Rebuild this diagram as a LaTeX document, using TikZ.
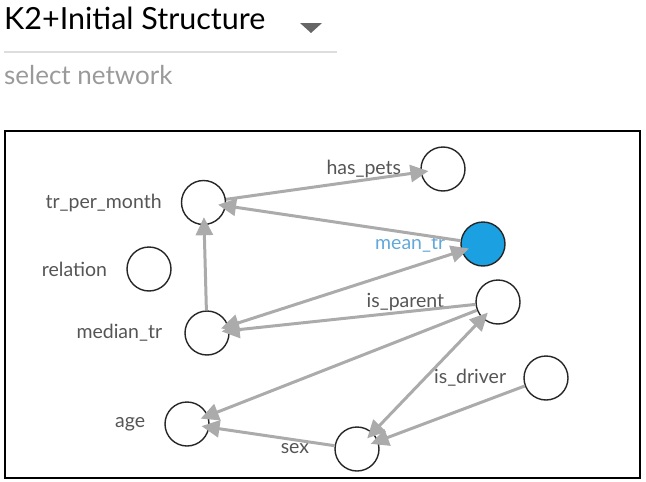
\documentclass[tikz,border=0pt]{standalone}
\usepackage{fontspec}
\setmainfont{Lato}
\usetikzlibrary{arrows.meta, positioning}
\definecolor{grisFlecha}{HTML}{ABABAB}
\definecolor{grisTexto}{HTML}{555555}
\definecolor{grisSub}{HTML}{9A9A9A}
\definecolor{grisLinea}{HTML}{DDDDDD}
\definecolor{grisMenu}{HTML}{666666}
\definecolor{azulNodo}{HTML}{1BA1E2}
\definecolor{azulTexto}{HTML}{62A8DA}
\tikzset{
  nodoRed/.style={
    circle, draw=black!85, line width=1.4pt, fill=white,
    minimum size=44pt, inner sep=0pt
  },
  nodoActivo/.style={nodoRed, fill=azulNodo},
  etiqueta/.style={font=\fontsize{19.5}{22}\selectfont, text=grisTexto,
    inner sep=0pt, xshift=-19pt},
  etiquetaActiva/.style={etiqueta, text=azulTexto},
  flecha/.style={-{Triangle[length=18pt, width=17pt]}, line width=3pt,
    grisFlecha, shorten >=-8pt},
  flechaDoble/.style={{Triangle[length=18pt, width=17pt]}-{Triangle[length=18pt, width=17pt]},
    line width=3pt, grisFlecha, shorten >=-8pt, shorten <=-8pt},
}

\begin{document}
\begin{tikzpicture}[x=1pt, y=-1pt]
    \useasboundingbox (0,0) rectangle (646,482);
    % selector
    \node[anchor=west, inner sep=0pt, font=\fontsize{30.5}{34}\selectfont] (titulo) at (4,18) {K2+Initial Structure};
    \fill[grisMenu] (300,23) -- (322,23) -- (311,33) -- cycle;
    \draw[grisLinea, line width=1.5pt] (4,52) -- (337,52);
    \node[anchor=west, inner sep=0pt, text=grisSub, font=\fontsize{26}{30}\selectfont] (subtitulo) at (4,75) {select network};
    \draw[line width=2pt] (5,131) rectangle (640,478);
    % red
    \node[nodoRed, label={[etiqueta]left:tr\_per\_month}] (trMes) at (203.5,202.5) {};
    \node[nodoRed, label={[etiqueta]left:has\_pets}] (mascotas) at (443,169) {};
    \node[nodoActivo, label={[etiquetaActiva, xshift=4pt]left:mean\_tr}] (media) at (483,244) {};
    \node[nodoRed, label={[etiqueta]left:relation}] (relacion) at (149,269) {};
    \node[nodoRed, label={[etiqueta, xshift=-12pt]left:is\_parent}] (padre) at (498,302) {};
    \node[nodoRed, label={[etiqueta, xshift=-3pt]left:median\_tr}] (mediana) at (207,333) {};
    \node[nodoRed, label={[etiqueta, xshift=2pt]left:is\_driver}] (conductor) at (546,378) {};
    \node[nodoRed, label={[etiqueta]left:age}] (edad) at (187,424) {};
    \node[nodoRed, label={[etiqueta, xshift=-6pt]left:sex}] (sexo) at (357,449) {};
    \draw[flecha] (trMes) -- (mascotas);
    \draw[flecha] (media) -- (trMes);
    \draw[flecha] (mediana) -- (trMes);
    \draw[flechaDoble] (mediana) -- (media);
    \draw[flecha] (padre) -- (mediana);
    \draw[flecha] (padre) -- (edad);
    \draw[flecha] (sexo) -- (edad);
    \draw[flechaDoble] (sexo) -- (padre);
    \draw[flecha] (conductor) -- (sexo);
\end{tikzpicture}
\end{document}
